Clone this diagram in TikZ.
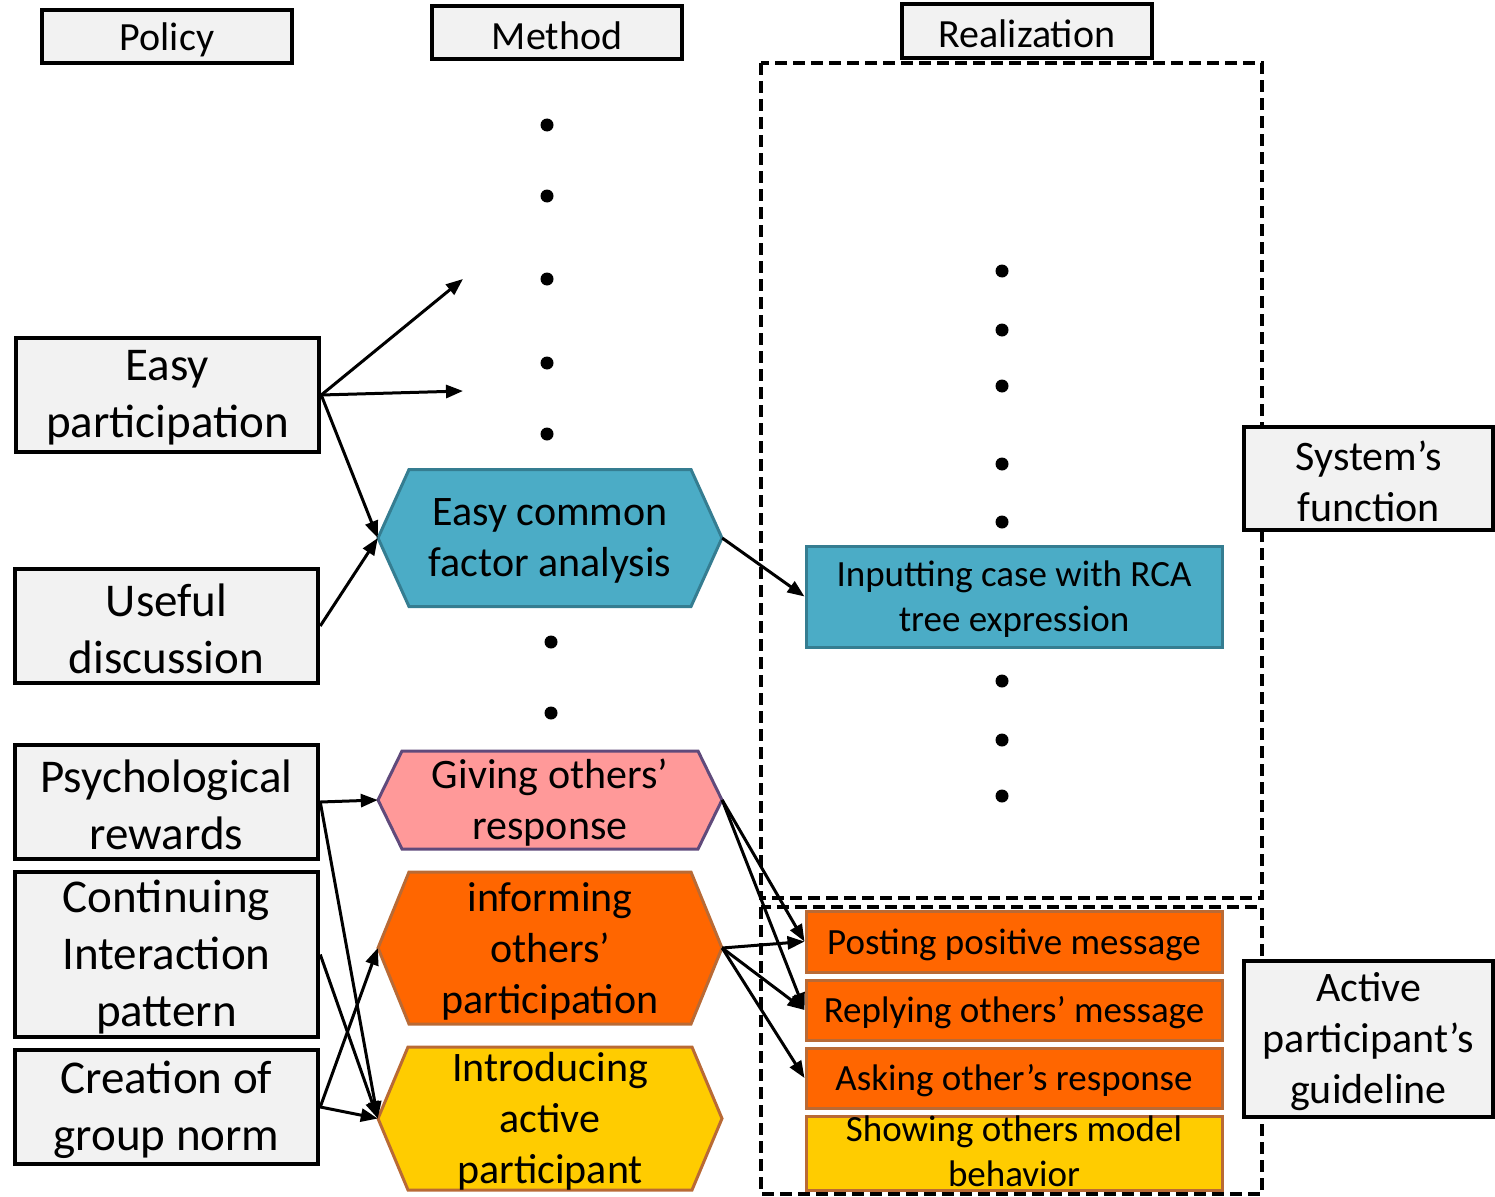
\documentclass[tikz,border=0pt]{standalone}
\usepackage{fontspec}
\setmainfont{Carlito}
\usetikzlibrary{arrows.meta}
\definecolor{boxgray}{HTML}{F2F2F2}
\definecolor{blueF}{HTML}{4BACC6}
\definecolor{blueD}{HTML}{357D91}
\definecolor{pinkF}{HTML}{FF9999}
\definecolor{purpleD}{HTML}{604A7B}
\definecolor{orangeF}{HTML}{FF6600}
\definecolor{brownD}{HTML}{B96A35}
\definecolor{yellowF}{HTML}{FFCC00}
\tikzset{
  graybox/.style={draw=black, line width=4.5pt, fill=boxgray, inner sep=0pt},
  txt/.style={align=center, inner sep=0pt, yshift=-3pt},
  bigtxt/.style={txt, font=\fontsize{47}{57}\selectfont},
  headtxt/.style={txt, font=\fontsize{40}{48}\selectfont},
  sidetxt/.style={txt, font=\fontsize{42}{51}\selectfont},
  hextxt/.style={txt, font=\fontsize{42}{51}\selectfont},
  realtxt/.style={txt, font=\fontsize{37}{45}\selectfont},
  realbox/.style={line width=3pt, inner sep=0pt, minimum width=416pt},
  arr/.style={line width=3pt, -{Triangle[length=17pt,width=13pt]}},
  dashbox/.style={line width=4pt, dash pattern=on 12pt off 6pt},
  dotnode/.style={circle, fill=black, inner sep=0pt, minimum size=13pt},
}
\newcommand{\myhex}[7]{%
  \path[#7] (#2-#4,#3) -- (#2-#4+#6,#3-#5) -- (#2+#4-#6,#3-#5) -- (#2+#4,#3)
     -- (#2+#4-#6,#3+#5) -- (#2-#4+#6,#3+#5) -- cycle;
  \node[inner sep=0pt, minimum width=#4*2pt, minimum height=#5*2pt] (#1) at (#2,#3) {};
}
\begin{document}
\begin{tikzpicture}[x=1pt,y=-1pt]
\useasboundingbox (0,0) rectangle (1495,1196);

% dashed regions
\draw[dashbox] (761,63) rectangle (1262,898);
\draw[dashbox] (761,907) rectangle (1262,1194);

% headers
\node[graybox, minimum width=250pt, minimum height=53pt] (policy) at (167,36.5) {};
\node[headtxt] (policyT) at (policy.center) {Policy};
\node[graybox, minimum width=250pt, minimum height=53pt] (method) at (557,32.5) {};
\node[headtxt] (methodT) at (method.center) {Method};
\node[graybox, minimum width=250pt, minimum height=54pt] (realization) at (1027,31) {};
\node[headtxt] (realizationT) at (realization.center) {Realization};

% policy boxes
\node[graybox, minimum width=303pt, minimum height=114pt] (ep) at (167.5,395) {};
\node[bigtxt] (epT) at (ep.center) {Easy\\participation};
\node[graybox, minimum width=303pt, minimum height=114pt] (ud) at (166.5,626) {};
\node[bigtxt] (udT) at (ud.center) {Useful\\discussion};
\node[graybox, minimum width=303pt, minimum height=114pt] (pr) at (166.5,802) {};
\node[bigtxt] (prT) at (pr.center) {Psychological\\rewards};
\node[graybox, minimum width=303pt, minimum height=165pt] (ci) at (166.5,954.5) {};
\node[bigtxt] (ciT) at (ci.center) {Continuing\\Interaction\\pattern};
\node[graybox, minimum width=303pt, minimum height=114pt] (cg) at (166.5,1107) {};
\node[bigtxt] (cgT) at (cg.center) {Creation of\\group norm};

% method hexagons
\myhex{ecfa}{550}{538}{172}{68.5}{31}{fill=blueF, draw=blueD, line width=3pt}
\node[hextxt] (ecfaT) at (ecfa.center) {Easy common\\factor analysis};
\myhex{gor}{550}{800}{172}{49}{24}{fill=pinkF, draw=purpleD, line width=3pt}
\node[hextxt] (gorT) at (gor.center) {Giving others’\\response};
\myhex{iop}{550}{948}{172}{76}{31}{fill=orangeF, draw=brownD, line width=3pt}
\node[hextxt] (iopT) at (iop.center) {informing\\others’\\participation};
\myhex{iap}{550}{1118.5}{172}{71.5}{30}{fill=yellowF, draw=brownD, line width=3pt}
\node[hextxt] (iapT) at (iap.center) {Introducing\\active\\participant};

% method dots
\node[dotnode] (md1) at (547,125) {};
\node[dotnode] (md2) at (547,196) {};
\node[dotnode] (md3) at (547,279) {};
\node[dotnode] (md4) at (547,363) {};
\node[dotnode] (md5) at (547,434) {};
\node[dotnode] (md6) at (551,642) {};
\node[dotnode] (md7) at (551,713) {};

% realization dots
\node[dotnode] (rd1) at (1002,271) {};
\node[dotnode] (rd2) at (1002,330) {};
\node[dotnode] (rd3) at (1002,386) {};
\node[dotnode] (rd4) at (1002,464) {};
\node[dotnode] (rd5) at (1002,522) {};
\node[dotnode] (rd6) at (1002,681) {};
\node[dotnode] (rd7) at (1002,740) {};
\node[dotnode] (rd8) at (1002,796) {};

% realization boxes
\node[realbox, fill=blueF, draw=blueD, minimum height=101pt] (rca) at (1014,596.5) {};
\node[realtxt] (rcaT) at (rca.center) {Inputting case with RCA\\tree expression};
\node[realbox, fill=orangeF, draw=brownD, minimum height=61pt] (ppm) at (1014,941.5) {};
\node[realtxt] (ppmT) at (ppm.center) {Posting positive message};
\node[realbox, fill=orangeF, draw=brownD, minimum height=60pt] (rom) at (1014,1010) {};
\node[realtxt] (romT) at (rom.center) {Replying others’ message};
\node[realbox, fill=orangeF, draw=brownD, minimum height=60pt] (aor) at (1014,1078) {};
\node[realtxt] (aorT) at (aor.center) {Asking other’s response};
\node[realbox, fill=yellowF, draw=brownD, minimum height=74pt] (som) at (1014,1153) {};
\node[realtxt, yshift=5pt] (somT) at (som.center) {Showing others model\\behavior};

% side labels
\node[graybox, minimum width=249pt, minimum height=103pt] (sf) at (1368.5,478.5) {};
\node[sidetxt] (sfT) at (sf.center) {System’s\\function};
\node[graybox, minimum width=249pt, minimum height=156pt] (apg) at (1368.5,1039) {};
\node[sidetxt] (apgT) at (apg.center) {Active\\participant’s\\guideline};

% free arrow ends
\coordinate (fe1) at (463,279);
\coordinate (fe2) at (463,391);

% connectors
\draw[arr] (ep.east) -- (fe1);
\draw[arr] (ep.east) -- (fe2);
\draw[arr] (ep.east) -- (ecfa.west);
\draw[arr] (ud.east) -- (ecfa.west);
\draw[arr] (ecfa.east) -- (rca.west);
\draw[arr] (pr.east) -- (gor.west);
\draw[arr] (pr.east) -- (iap.west);
\draw[arr] (ci.east) -- (iap.west);
\draw[arr] (cg.east) -- (iop.west);
\draw[arr] (cg.east) -- (iap.west);
\draw[arr] (gor.east) -- (ppm.west);
\draw[arr] (gor.east) -- (rom.west);
\draw[arr] (iop.east) -- (ppm.west);
\draw[arr] (iop.east) -- (rom.west);
\draw[arr] (iop.east) -- (aor.west);
\end{tikzpicture}
\end{document}
